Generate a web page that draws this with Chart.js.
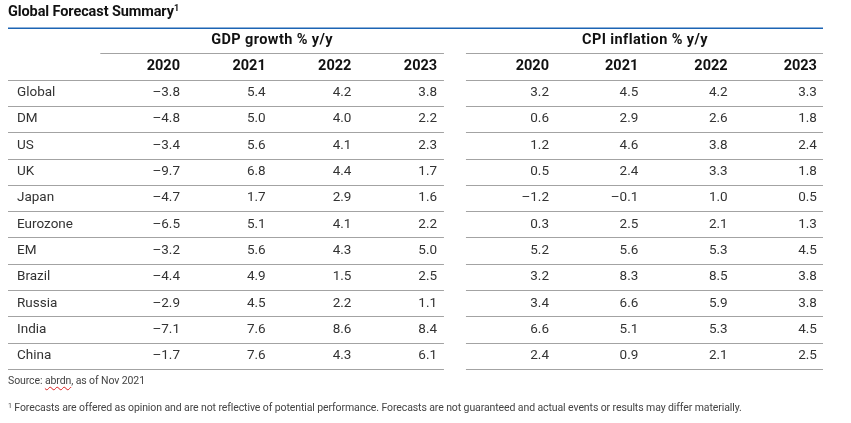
<!DOCTYPE html>
<html>
<head>
<meta charset="utf-8">
<script src="https://cdn.jsdelivr.net/npm/chart.js@4"></script>
<style>
  body { margin: 0; background: #fff; font-family: Roboto, sans-serif; }
  #wrap { position: relative; width: 851px; height: 423px; }
  #title { position: absolute; left: 8px; top: 4px; font-weight: 700; font-size: 14.5px; line-height: 15px; color: #111; letter-spacing: -0.1px; }
  #title sup { font-size: 9px; vertical-align: 5px; line-height: 0; }
  .note { position: absolute; left: 8px; font-size: 10.5px; line-height: 12px; color: #444; letter-spacing: -0.1px; }
  .note sup { font-size: 7px; vertical-align: 3px; line-height: 0; }
  .squig { text-decoration: underline wavy #d22; text-decoration-thickness: 1px; text-underline-offset: 2px; }
</style>
</head>
<body>
<div id="wrap">
  <div id="title">Global Forecast Summary<sup>1</sup></div>
  <canvas id="table"></canvas>
  <div class="note" style="top:375px">Source: <span class="squig">abrdn</span>, as of Nov 2021</div>
  <div class="note" style="top:402px"><sup>1</sup> Forecasts are offered as opinion and are not reflective of potential performance. Forecasts are not guaranteed and actual events or results may differ materially.</div>
</div>
<script>
// ========== データ ==========
const groups = ['GDP growth % y/y', 'CPI inflation % y/y'];
const years = ['2020', '2021', '2022', '2023'];
const regions = ['Global', 'DM', 'US', 'UK', 'Japan', 'Eurozone', 'EM', 'Brazil', 'Russia', 'India', 'China'];

const gdp2020 = [-3.8, -4.8, -3.4, -9.7, -4.7, -6.5, -3.2, -4.4, -2.9, -7.1, -1.7];
const gdp2021 = [5.4, 5.0, 5.6, 6.8, 1.7, 5.1, 5.6, 4.9, 4.5, 7.6, 7.6];
const gdp2022 = [4.2, 4.0, 4.1, 4.4, 2.9, 4.1, 4.3, 1.5, 2.2, 8.6, 4.3];
const gdp2023 = [3.8, 2.2, 2.3, 1.7, 1.6, 2.2, 5.0, 2.5, 1.1, 8.4, 6.1];

const cpi2020 = [3.2, 0.6, 1.2, 0.5, -1.2, 0.3, 5.2, 3.2, 3.4, 6.6, 2.4];
const cpi2021 = [4.5, 2.9, 4.6, 2.4, -0.1, 2.5, 5.6, 8.3, 6.6, 5.1, 0.9];
const cpi2022 = [4.2, 2.6, 3.8, 3.3, 1.0, 2.1, 5.3, 8.5, 5.9, 5.3, 2.1];
const cpi2023 = [3.3, 1.8, 2.4, 1.8, 0.5, 1.3, 4.5, 3.8, 3.8, 4.5, 2.5];

const gdpCols = [gdp2020, gdp2021, gdp2022, gdp2023];
const cpiCols = [cpi2020, cpi2021, cpi2022, cpi2023];

// 行: グループ見出し, 年見出し, 地域
const rowKeys = ['group', 'year', ...regions];

// ========== スタイル ==========
const TEXT = '#333';
const HEAD = '#111';
const RULE = '#a3a3a3';
const BLUE = '#1c64b4';
const BLOCK_START = 0.07;
const BLOCK_END = 4.08;

function fmt(v) {
  return (v < 0 ? '\u2013' : '') + Math.abs(v).toFixed(1);
}

function makeDatasets(cols, axisId) {
  return cols.map((vals, j) => ({
    label: axisId + years[j],
    xAxisID: axisId,
    data: regions.map((r, i) => ({ x: j + 1, y: r, v: vals[i] })),
    pointRadius: 0,
    showLine: false,
  }));
}

// ========== テーブル描画プラグイン ==========
const tablePlugin = {
  id: 'tablePlugin',
  afterDatasetsDraw(chart) {
    const { ctx, chartArea, scales } = chart;
    const y = scales.y;
    const step = y.getPixelForValue(1) - y.getPixelForValue(0);
    const blocks = [scales.xg, scales.xc];

    ctx.save();

    // 上部の青線
    ctx.strokeStyle = BLUE;
    ctx.lineWidth = 1.5;
    ctx.beginPath();
    ctx.moveTo(chartArea.left, chartArea.top + 1.25);
    ctx.lineTo(chartArea.right, chartArea.top + 1.25);
    ctx.stroke();

    // 罫線
    ctx.strokeStyle = RULE;
    ctx.lineWidth = 1;
    rowKeys.forEach((key, i) => {
      const yy = Math.round(y.getPixelForValue(i) + step / 2) + 0.5;
      blocks.forEach((axis, b) => {
        let x0 = axis.getPixelForValue(BLOCK_START);
        if (b === 0 && i > 0) x0 = chartArea.left;
        const x1 = Math.min(axis.getPixelForValue(BLOCK_END), chartArea.right);
        ctx.beginPath();
        ctx.moveTo(x0, yy);
        ctx.lineTo(x1, yy);
        ctx.stroke();
      });
    });

    ctx.textBaseline = 'middle';

    // グループ見出し
    ctx.fillStyle = HEAD;
    ctx.font = '700 14.5px Roboto';
    ctx.letterSpacing = '0.4px';
    ctx.textAlign = 'center';
    blocks.forEach((axis, b) => {
      const cx = (axis.getPixelForValue(BLOCK_START) + axis.getPixelForValue(BLOCK_END)) / 2;
      ctx.fillText(groups[b], cx, y.getPixelForValue(0));
    });
    ctx.letterSpacing = '0px';

    // 年見出し
    ctx.textAlign = 'right';
    blocks.forEach(axis => {
      years.forEach((yr, j) => {
        ctx.fillText(yr, axis.getPixelForValue(j + 1), y.getPixelForValue(1));
      });
    });

    // 地域ラベル
    ctx.fillStyle = TEXT;
    ctx.font = '400 13.5px Roboto';
    ctx.textAlign = 'left';
    regions.forEach(r => {
      ctx.fillText(r, chartArea.left + 9, y.getPixelForValue(r));
    });

    // 数値
    ctx.textAlign = 'right';
    chart.data.datasets.forEach((ds, d) => {
      const meta = chart.getDatasetMeta(d);
      meta.data.forEach((pt, i) => {
        ctx.fillText(fmt(ds.data[i].v), pt.x, pt.y);
      });
    });

    ctx.restore();
  },
};

// ========== 初期化 ==========
function init() {
  const canvas = document.getElementById('table');

  new Chart(canvas, {
    type: 'scatter',
    data: {
      datasets: [...makeDatasets(gdpCols, 'xg'), ...makeDatasets(cpiCols, 'xc')],
    },
    options: {
      responsive: false,
      animation: false,
      events: [],
      layout: { padding: { left: 8, right: 28, top: 27, bottom: 54 } },
      plugins: { legend: { display: false }, tooltip: { enabled: false } },
      scales: {
        xg: { type: 'linear', display: false, min: -1.007, max: 8.503 },
        xc: { type: 'linear', display: false, min: -5.058, max: 4.068 },
        y: { type: 'category', labels: rowKeys, offset: true, display: false },
      },
    },
    plugins: [tablePlugin],
  });
}

const cv = document.getElementById('table');
cv.width = 851;
cv.height = 423;
document.addEventListener('DOMContentLoaded', init);
</script>
</body>
</html>
